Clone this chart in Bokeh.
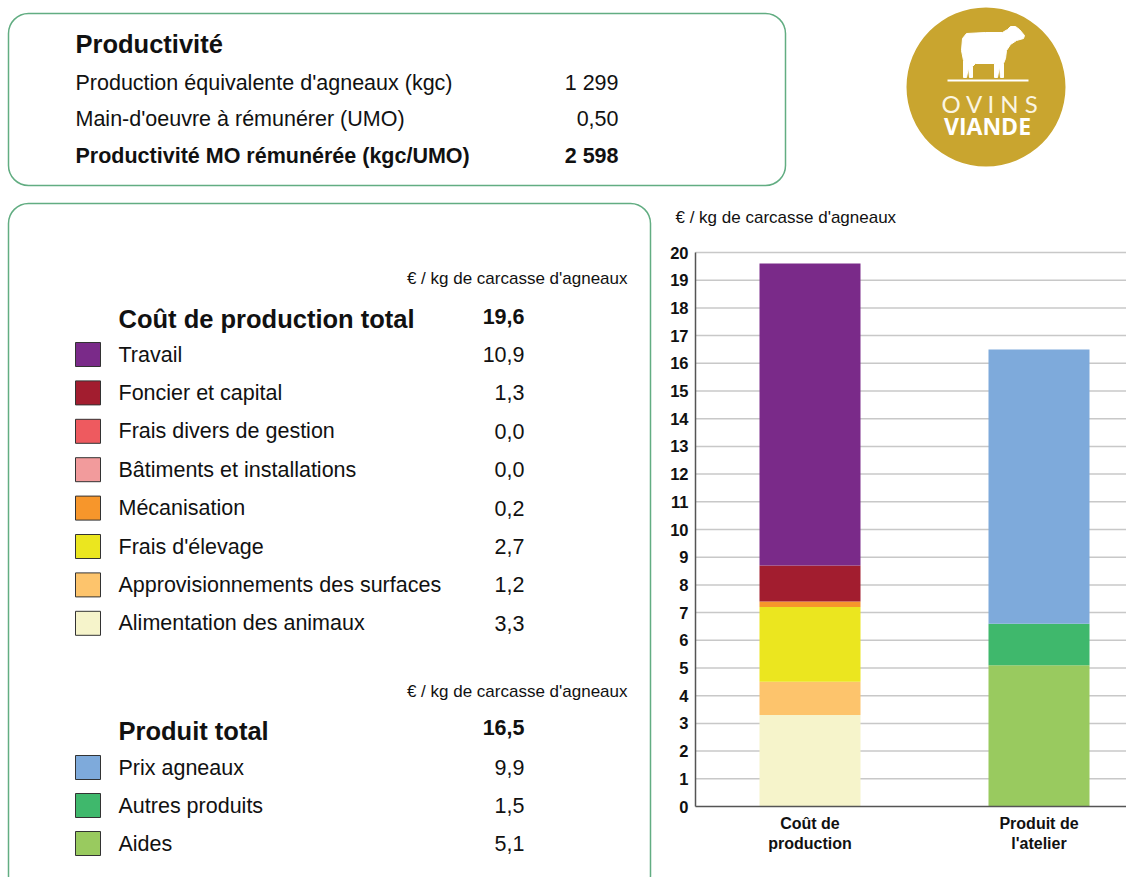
from bokeh.plotting import figure
from bokeh.models import (Range1d, Label, BoxAnnotation, PolyAnnotation,
                          FixedTicker, ColumnDataSource, LinearAxis)
from bokeh.embed import file_html
from bokeh.resources import INLINE

# ---------------- data ----------------
categories = ["Coût de\nproduction", "Produit de\nl'atelier"]
y_ticks = list(range(0, 21))

productivity_title = "Productivité"
productivity_labels = ["Production équivalente d'agneaux (kgc)",
                       "Main-d'oeuvre à rémunérer (UMO)",
                       "Productivité MO rémunérée (kgc/UMO)"]
productivity_values = ["1 299", "0,50", "2 598"]

unit_label = "€ / kg de carcasse d'agneaux"

cost_title = "Coût de production total"
cost_total = 19.6
cost_labels = ["Travail", "Foncier et capital", "Frais divers de gestion",
               "Bâtiments et installations", "Mécanisation", "Frais d'élevage",
               "Approvisionnements des surfaces", "Alimentation des animaux"]
cost_values = [10.9, 1.3, 0.0, 0.0, 0.2, 2.7, 1.2, 3.3]
cost_colors = ["#7a2a89", "#a21d2f", "#ee5a5f", "#f29b9c", "#f7962b",
               "#ebe61f", "#fdc46c", "#f6f4cb"]

product_title = "Produit total"
product_total = 16.5
product_labels = ["Prix agneaux", "Autres produits", "Aides"]
product_values = [9.9, 1.5, 5.1]
product_colors = ["#7eaadb", "#3fb86c", "#99ca5f"]

logo_top = "O V I N S"
logo_bottom = "VIANDE"

# ---------------- layout constants (page pixels) ----------------
W, H = 1126, 877
FONT = "Liberation Sans"
GREEN = "#62ad82"
GOLD = "#c9a52f"
AX_X = 695            # x of the value axis
Y0, U = 806.0, 27.7   # y pixel of value 0, pixels per unit
C0, CU = 809.5, 229.0  # x pixel of first category, pixels per category

p = figure(width=W, height=H, x_range=Range1d(0, W), y_range=Range1d(-H, 0),
           x_axis_type=None, y_axis_type=None, min_border=0,
           output_backend="svg", toolbar_location=None)
p.extra_y_ranges = {"val": Range1d(-(H - Y0) / U, Y0 / U)}
p.extra_x_ranges = {"cat": Range1d(-C0 / CU, (W - C0) / CU)}
p.outline_line_color = None
p.background_fill_color = "white"
p.border_fill_color = "white"
p.grid.visible = False

# ---------------- grid lines ----------------
grid_src = ColumnDataSource({"t": y_ticks[1:]})
p.segment(x0=AX_X, x1=W, y0="t", y1="t", y_range_name="val", source=grid_src,
          line_color="#c8c8c8", line_width=1.5)

# ---------------- stacked bars ----------------
data = {"x": list(range(len(categories)))}
stackers, colors = [], []
for i in reversed(range(len(cost_values))):
    key = f"c{i}"
    data[key] = [cost_values[i], 0.0]
    stackers.append(key)
    colors.append(cost_colors[i])
for i in reversed(range(len(product_values))):
    key = f"p{i}"
    data[key] = [0.0, product_values[i]]
    stackers.append(key)
    colors.append(product_colors[i])
src = ColumnDataSource(data)
p.vbar_stack(stackers, x="x", width=101 / CU, color=colors, line_color=None,
             source=src, x_range_name="cat", y_range_name="val")

# ---------------- axes ----------------
yaxis = LinearAxis(y_range_name="val", fixed_location=AX_X,
                   ticker=FixedTicker(ticks=y_ticks), bounds=(0, 20))
xaxis = LinearAxis(x_range_name="cat", fixed_location=-Y0,
                   ticker=FixedTicker(ticks=list(range(len(categories)))),
                   bounds=((AX_X - C0) / CU, (W - C0) / CU))
xaxis.major_label_overrides = {i: c for i, c in enumerate(categories)}
for ax in (xaxis, yaxis):
    ax.major_tick_out = 0
    ax.major_tick_in = 0
    ax.minor_tick_out = 0
    ax.minor_tick_in = 0
    ax.major_label_text_font = FONT
    ax.major_label_text_font_style = "bold"
    ax.major_label_text_color = "#111111"
    ax.axis_line_color = "#555555"
    ax.axis_line_width = 1.5
xaxis.major_label_standoff = 8
xaxis.major_label_text_font_size = "16px"
yaxis.major_label_standoff = 7
yaxis.major_label_text_font_size = "16.5px"
p.add_layout(yaxis, "left")
p.add_layout(xaxis, "below")


# ---------------- helpers ----------------
def lab(x, y, text, size, bold=False, align="left", color="#111111", font=FONT):
    p.add_layout(Label(x=x, y=-y, text=text,
                       text_font=font, text_font_size=f"{size}px",
                       text_font_style="bold" if bold else "normal",
                       text_align=align, text_baseline="middle", text_color=color))


def box(l, t, r, b, fill, line, lw=1.0, radius=0):
    p.add_layout(BoxAnnotation(left=l, right=r, top=-t, bottom=-b,
                               fill_color=fill if fill else "white",
                               fill_alpha=1.0 if fill else 0.0,
                               line_color=line if line else "white",
                               line_alpha=1.0 if line else 0.0,
                               line_width=lw, border_radius=radius))


def fmt(v):
    return f"{v:.1f}".replace(".", ",")


# chart unit label
lab(675, 217, unit_label, 17)

# ---------------- productivity panel ----------------
box(8, 13, 785, 185, "white", GREEN, 1.5, 20)
lab(75, 43, productivity_title, 25.5, bold=True)
for i, (t, v) in enumerate(zip(productivity_labels, productivity_values)):
    y = [82, 118, 155][i]
    b = i == len(productivity_labels) - 1
    lab(75, y, t, 21.5, bold=b)
    lab(618, y, v, 21.5, bold=b, align="right")

# ---------------- cost / product panel ----------------
box(8, 203, 650, 895, "white", GREEN, 1.5, 20)
lab(627, 278, unit_label, 17, align="right")
lab(118, 318, cost_title, 25.5, bold=True)
lab(524, 316, fmt(cost_total), 21.5, bold=True, align="right")
for i, (t, v, c) in enumerate(zip(cost_labels, cost_values, cost_colors)):
    y = 354 + i * 38.4
    box(75, y - 12, 100, y + 12, c, "#333333", 1.0)
    lab(118, y, t, 21.5)
    lab(524, y, fmt(v), 21.5, align="right")

lab(627, 691, unit_label, 17, align="right")
lab(118, 730, product_title, 25.5, bold=True)
lab(524, 727, fmt(product_total), 21.5, bold=True, align="right")
for i, (t, v, c) in enumerate(zip(product_labels, product_values, product_colors)):
    y = 767 + i * 38
    box(75, y - 12, 100, y + 12, c, "#333333", 1.0)
    lab(118, y, t, 21.5)
    lab(524, y, fmt(v), 21.5, align="right")

# ---------------- logo ----------------
box(906, 7, 1065, 166, GOLD, None, 0, 80)
sheep_x = [962, 966, 985, 1002, 1007, 1010, 1015, 1019, 1024, 1023, 1016, 1010,
           1006, 1005, 1003, 1003, 1000, 999, 997, 994, 994, 975, 972, 972,
           969, 968, 966, 963, 963, 961]
sheep_y = [38, 33, 32, 32, 29, 26, 26, 29, 35, 38, 40, 44,
           50, 58, 63, 77, 77, 66, 77, 77, 63, 63, 66, 77,
           77, 67, 77, 77, 60, 50]
p.add_layout(PolyAnnotation(xs=sheep_x, ys=[-v for v in sheep_y],
                            fill_color="white", fill_alpha=1.0,
                            line_color="white", line_alpha=1.0, line_width=1))
box(947, 79, 1028, 81, "white", None, 0)
lab(990, 103, logo_top, 24, align="center", color="#fbf5e2", font="Lato")
lab(987, 125, logo_bottom, 23, bold=True, align="center", color="#ffffff",
    font="Open Sans")

open("out.html", "w").write(file_html(p, INLINE))
